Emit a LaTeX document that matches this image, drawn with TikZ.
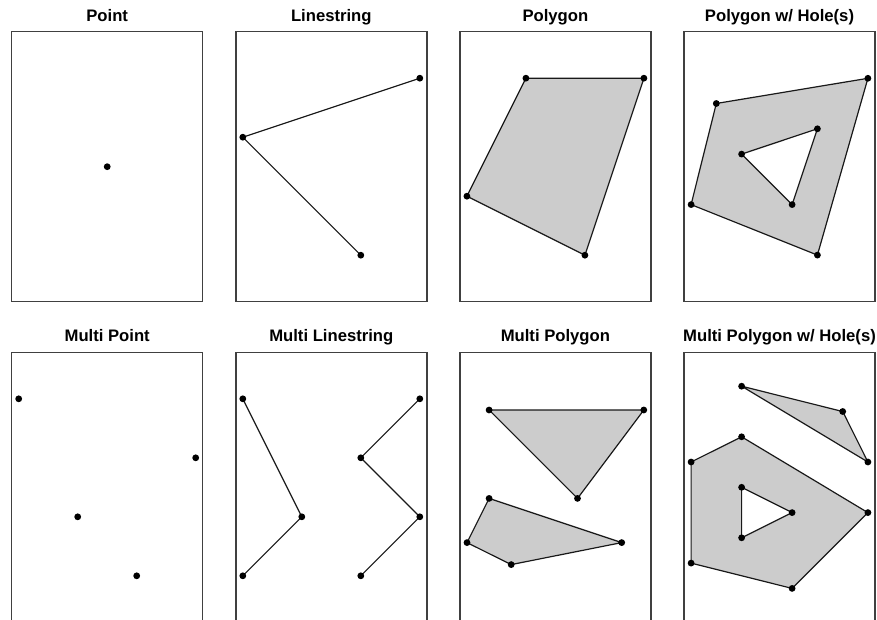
\documentclass[tikz,border=0pt]{standalone}
\usepackage{fontspec}
\setmainfont{Liberation Sans}
\newcommand{\vertexdots}[1]{\foreach \p in {#1} \fill (\p) circle (3.4);}
\begin{document}
\begin{tikzpicture}[x=0.75pt, y=-0.75pt,
        panel/.style={draw=black!75, line width=1.15pt},
        edge/.style={draw=black!90, line width=0.9pt, line join=round},
        shaded/.style={edge, fill=black!20, even odd rule},
        heading/.style={anchor=base, font=\bfseries\fontsize{12.5}{15}\selectfont}]
            \useasboundingbox (0,0) rectangle (877,620);
            \foreach \i in {0,...,3} {
                \draw[panel] ({11.7+224.1*\i},31.7) rectangle ++(191,270);
                \draw[panel] ({11.7+224.1*\i},352.3) rectangle ++(191,270);
            }
            \node[heading] (tpoint) at (107.2,21.7) {Point};
            \node[heading] (tline) at (331.3,21.7) {Linestring};
            \node[heading] (tpoly) at (555.4,21.7) {Polygon};
            \node[heading] (thole) at (779.5,21.7) {Polygon w/ Hole(s)};
            \node[heading] (tmpoint) at (107.2,341.7) {Multi Point};
            \node[heading] (tmline) at (331.3,341.7) {Multi Linestring};
            \node[heading] (tmpoly) at (555.4,341.7) {Multi Polygon};
            \node[heading] (tmhole) at (779.5,341.7) {Multi Polygon w/ Hole(s)};
            % point
            \coordinate (pt) at (107.2,166.7);
            \vertexdots{pt}
            % linestring
            \coordinate (ls1) at (360.8,255.2);
            \coordinate (ls2) at (242.8,137.2);
            \coordinate (ls3) at (419.8,78.2);
            \draw[edge] (ls1) -- (ls2) -- (ls3);
            \vertexdots{ls1,ls2,ls3}
            % polygon
            \coordinate (pg1) at (584.9,255.2);
            \coordinate (pg2) at (643.9,78.2);
            \coordinate (pg3) at (525.9,78.2);
            \coordinate (pg4) at (466.9,196.2);
            \draw[shaded] (pg1) -- (pg2) -- (pg3) -- (pg4) -- cycle;
            \vertexdots{pg1,pg2,pg3,pg4}
            % polygon with hole
            \coordinate (ph1) at (817.4,255.1);
            \coordinate (ph2) at (867.9,78.3);
            \coordinate (ph3) at (716.3,103.5);
            \coordinate (ph4) at (691.1,204.6);
            \coordinate (hh1) at (741.6,154.1);
            \coordinate (hh2) at (817.4,128.8);
            \coordinate (hh3) at (792.1,204.6);
            \draw[shaded] (ph1) -- (ph2) -- (ph3) -- (ph4) -- cycle
                          (hh1) -- (hh2) -- (hh3) -- cycle;
            \vertexdots{ph1,ph2,ph3,ph4,hh1,hh2,hh3}
            % multi point
            \coordinate (mp1) at (18.7,398.8);
            \coordinate (mp2) at (195.7,457.8);
            \coordinate (mp3) at (77.7,516.8);
            \coordinate (mp4) at (136.7,575.8);
            \vertexdots{mp1,mp2,mp3,mp4}
            % multi linestring
            \coordinate (ma1) at (242.8,575.8);
            \coordinate (ma2) at (301.8,516.8);
            \coordinate (ma3) at (242.8,398.8);
            \coordinate (mb1) at (419.8,398.8);
            \coordinate (mb2) at (360.8,457.8);
            \coordinate (mb3) at (419.8,516.8);
            \coordinate (mb4) at (360.8,575.8);
            \draw[edge] (ma1) -- (ma2) -- (ma3);
            \draw[edge] (mb1) -- (mb2) -- (mb3) -- (mb4);
            \vertexdots{ma1,ma2,ma3,mb1,mb2,mb3,mb4}
            % multi polygon
            \coordinate (ta1) at (577.5,498.4);
            \coordinate (ta2) at (643.8,410.0);
            \coordinate (ta3) at (489.1,410.0);
            \coordinate (qa1) at (511.2,564.6);
            \coordinate (qa2) at (621.7,542.6);
            \coordinate (qa3) at (489.1,498.4);
            \coordinate (qa4) at (467.0,542.6);
            \draw[shaded] (ta1) -- (ta2) -- (ta3) -- cycle;
            \draw[shaded] (qa1) -- (qa2) -- (qa3) -- (qa4) -- cycle;
            \vertexdots{ta1,ta2,ta3,qa1,qa2,qa3,qa4}
            % multi polygon with hole
            \coordinate (tb1) at (842.7,411.5);
            \coordinate (tb2) at (741.6,386.2);
            \coordinate (tb3) at (867.9,462.0);
            \coordinate (bg1) at (741.6,436.8);
            \coordinate (bg2) at (691.1,462.0);
            \coordinate (bg3) at (691.1,563.1);
            \coordinate (bg4) at (792.1,588.4);
            \coordinate (bg5) at (867.9,512.6);
            \coordinate (bh1) at (792.1,512.6);
            \coordinate (bh2) at (741.6,537.8);
            \coordinate (bh3) at (741.6,487.3);
            \draw[shaded] (tb1) -- (tb2) -- (tb3) -- cycle;
            \draw[shaded] (bg1) -- (bg2) -- (bg3) -- (bg4) -- (bg5) -- cycle
                          (bh1) -- (bh2) -- (bh3) -- cycle;
            \vertexdots{tb1,tb2,tb3,bg1,bg2,bg3,bg4,bg5,bh1,bh2,bh3}
        \end{tikzpicture}
\end{document}
